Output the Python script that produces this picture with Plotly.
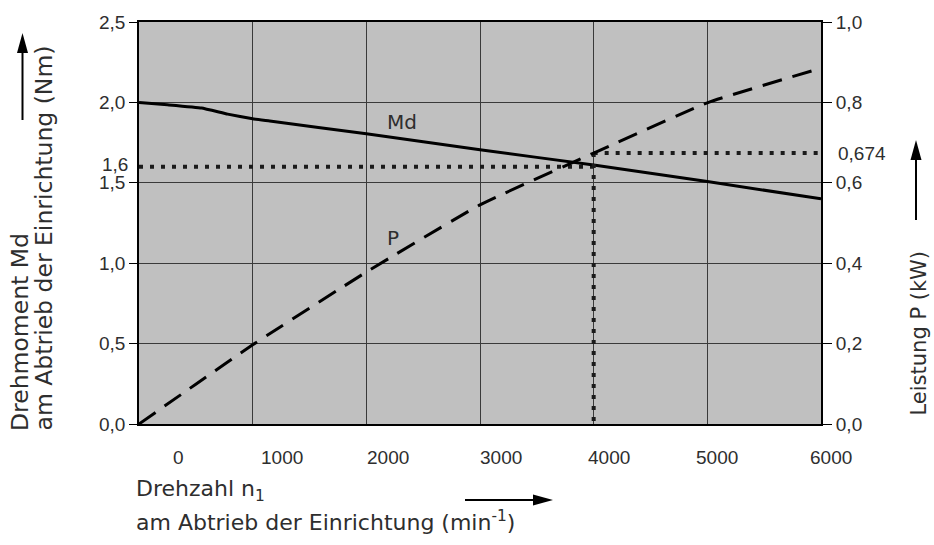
import plotly.graph_objects as go

# ---------------- data ----------------
speed_md = [0, 250, 550, 780, 1000, 1150, 2000, 3000, 4000, 5000, 6000]
torque_md = [2.0, 1.985, 1.965, 1.927, 1.898, 1.884, 1.805, 1.706, 1.61, 1.508, 1.40]

speed_p = [0, 500, 1000, 2000, 3000, 4000, 5000, 6000]
power_p = [0, 0.099, 0.197, 0.378, 0.545, 0.674, 0.799, 0.885]

op_speed = 4000
op_torque = 1.6
op_power = 0.674
speed_min, speed_max = 0, 6000

x_ticks = [0, 1000, 2000, 3000, 4000, 5000, 6000]
x_tick_text = ["0", "1000", "2000", "3000", "4000", "5000", "6000"]
y_left_ticks = [0.0, 0.5, 1.0, 1.5, 2.0, 2.5]
y_left_text = ["0,0", "0,5", "1,0", "1,5", "2,0", "2,5"]
y_right_ticks = [0.0, 0.2, 0.4, 0.6, 0.8, 1.0]
y_right_text = ["0,0", "0,2", "0,4", "0,6", "0,8", "1,0"]
op_torque_text = "1,6"
op_power_text = "0,674"

# ---------------- layout geometry ----------------
W, H = 934, 545
ML, MR, MT, MB = 139, 113, 22, 121
PW = W - ML - MR
PH = H - MT - MB


def px(xp):
    return (xp - ML) / PW


def py(yp):
    return (H - MB - yp) / PH


TXT = "#2e2e2e"
TICKFONT = dict(family="Liberation Sans, Arial, sans-serif", size=19, color=TXT)
TITLEFONT = dict(family="DejaVu Sans, sans-serif", size=22, color=TXT)
LEFTTITLEFONT = dict(family="DejaVu Sans, sans-serif", size=23.5, color=TXT)

fig = go.Figure()

# dotted operating point guide lines
dot = dict(color="#1a1a1a", width=4, dash="4px,7px")
fig.add_trace(go.Scatter(x=[speed_min, op_speed], y=[op_torque, op_torque], mode="lines",
                         line=dot, yaxis="y", showlegend=False, hoverinfo="skip"))
fig.add_trace(go.Scatter(x=[op_speed, speed_max], y=[op_power, op_power], mode="lines",
                         line=dot, yaxis="y2", showlegend=False, hoverinfo="skip"))
fig.add_trace(go.Scatter(x=[op_speed, op_speed], y=[op_power, 0], mode="lines",
                         line=dot, yaxis="y2", showlegend=False, hoverinfo="skip"))

# curves
fig.add_trace(go.Scatter(x=speed_md, y=torque_md, mode="lines", name="Md",
                         line=dict(color="black", width=3, shape="spline", smoothing=0.3),
                         yaxis="y", showlegend=False))
fig.add_trace(go.Scatter(x=speed_p, y=power_p, mode="lines", name="P",
                         line=dict(color="black", width=3, dash="20px,11px", shape="spline", smoothing=0.4),
                         yaxis="y2", showlegend=False))

annotations = []
# x tick labels (slightly shifted as in the original print)
x_label_shift = [39, 29, 22, 21, 15, 10, 10]
for v, t, s in zip(x_ticks, x_tick_text, x_label_shift):
    annotations.append(dict(x=v, xref="x", y=0, yref="paper", text=t, showarrow=False,
                            xanchor="center", yanchor="middle", xshift=s, yshift=-33,
                            font=TICKFONT))
# special tick labels without tick marks
annotations.append(dict(x=0, xref="paper", y=op_torque, yref="y", text=op_torque_text,
                        showarrow=False, xanchor="right", yanchor="middle", xshift=-9,
                        yshift=2, font=TICKFONT))
annotations.append(dict(x=1, xref="paper", y=op_power, yref="y2", text=op_power_text,
                        showarrow=False, xanchor="left", yanchor="middle", xshift=15,
                        font=TICKFONT))
# curve labels
annotations.append(dict(x=2314, xref="x", y=1.88, yref="y", text="Md", showarrow=False,
                        font=dict(family="DejaVu Sans, sans-serif", size=20, color=TXT)))
annotations.append(dict(x=2235, xref="x", y=1.156, yref="y", text="P", showarrow=False,
                        font=dict(family="DejaVu Sans, sans-serif", size=20, color=TXT)))
# axis titles
annotations.append(dict(x=px(20), xref="paper", y=py(433), yref="paper", text="Drehmoment Md",
                        textangle=-90, showarrow=False, xanchor="center", yanchor="bottom",
                        font=LEFTTITLEFONT))
annotations.append(dict(x=px(43), xref="paper", y=py(433), yref="paper",
                        text="am Abtrieb der Einrichtung (Nm)",
                        textangle=-90, showarrow=False, xanchor="center", yanchor="bottom",
                        font=LEFTTITLEFONT))
annotations.append(dict(x=px(918), xref="paper", y=py(418), yref="paper", text="Leistung P (kW)",
                        textangle=-90, showarrow=False, xanchor="center", yanchor="bottom",
                        font=dict(family="DejaVu Sans, sans-serif", size=21, color=TXT)))
annotations.append(dict(x=px(134), xref="paper", y=py(490), yref="paper",
                        text="Drehzahl n<sub>1</sub>",
                        showarrow=False, xanchor="left", yanchor="middle", font=TITLEFONT))
annotations.append(dict(x=px(134), xref="paper", y=py(521), yref="paper",
                        text="am Abtrieb der Einrichtung (min<sup>-1</sup>)",
                        showarrow=False, xanchor="left", yanchor="middle", font=TITLEFONT))

# arrows drawn as shapes
shapes = []


def arrow_up(x, y_bottom, y_tip, head=20, half=5.5):
    shapes.append(dict(type="line", xref="paper", yref="paper",
                       x0=px(x), x1=px(x), y0=py(y_bottom), y1=py(y_tip + head - 2),
                       line=dict(color="black", width=2)))
    shapes.append(dict(type="path", xref="paper", yref="paper",
                       path=f"M {px(x - half)} {py(y_tip + head)} L {px(x + half)} {py(y_tip + head)} "
                            f"L {px(x)} {py(y_tip)} Z",
                       fillcolor="black", line=dict(color="black", width=0)))


def arrow_right(y, x_start, x_tip, head=20, half=5.5):
    shapes.append(dict(type="line", xref="paper", yref="paper",
                       x0=px(x_start), x1=px(x_tip - head + 2), y0=py(y), y1=py(y),
                       line=dict(color="black", width=2)))
    shapes.append(dict(type="path", xref="paper", yref="paper",
                       path=f"M {px(x_tip - head)} {py(y - half)} L {px(x_tip - head)} {py(y + half)} "
                            f"L {px(x_tip)} {py(y)} Z",
                       fillcolor="black", line=dict(color="black", width=0)))


arrow_up(22.5, 120, 33)
arrow_up(916, 220, 140)
arrow_right(500, 465, 553)

fig.update_layout(
    width=W, height=H, autosize=False,
    margin=dict(l=ML, r=MR, t=MT, b=MB, pad=0),
    paper_bgcolor="white", plot_bgcolor="#c0c0c0",
    showlegend=False,
    xaxis=dict(range=[speed_min, speed_max], tickvals=x_ticks, showticklabels=False,
               showgrid=True, gridcolor="#3a3a3a", gridwidth=1, zeroline=False,
               showline=True, linecolor="black", linewidth=1.5, mirror=True, ticks=""),
    yaxis=dict(range=[0, 2.5], tickvals=y_left_ticks, ticktext=y_left_text,
               ticks="outside", ticklen=8, tickwidth=1.2, tickcolor="black",
               showgrid=True, gridcolor="#3a3a3a", gridwidth=1, zeroline=False,
               showline=True, linecolor="black", linewidth=1.5, tickfont=TICKFONT),
    yaxis2=dict(range=[0, 1.0], tickvals=y_right_ticks, ticktext=y_right_text,
                overlaying="y", side="right", anchor="x",
                ticks="outside", ticklen=9, tickwidth=1.2, tickcolor="black",
                showgrid=False, zeroline=False,
                showline=True, linecolor="black", linewidth=2, tickfont=TICKFONT),
    annotations=annotations,
    shapes=shapes,
)

fig.write_html("out.html")
